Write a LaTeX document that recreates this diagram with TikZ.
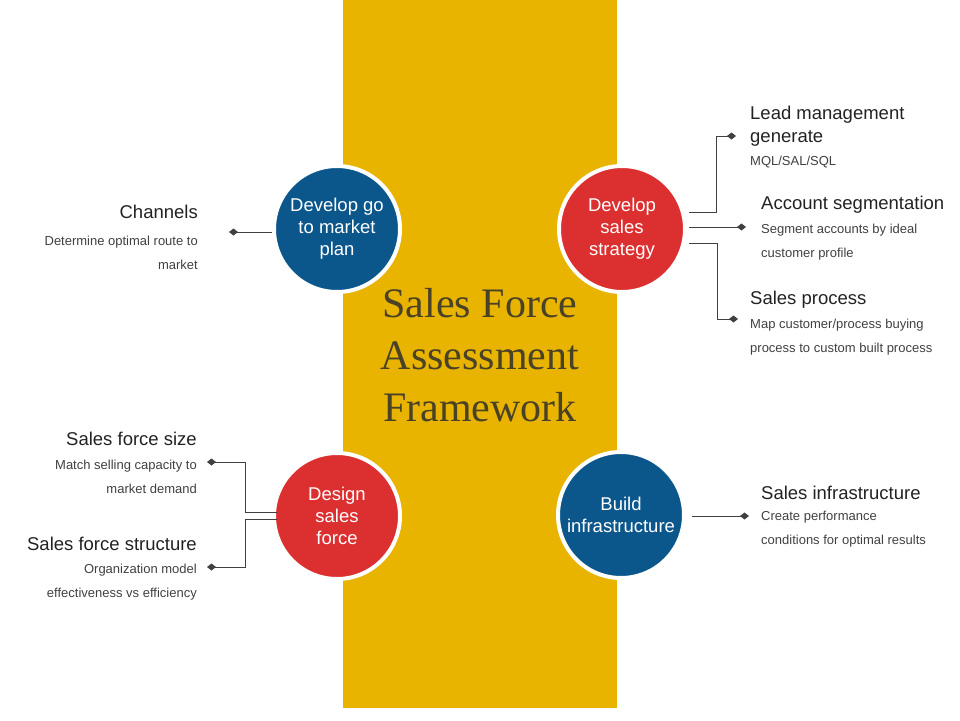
\documentclass[tikz,border=0pt]{standalone}
\usepackage{fontspec}
\setmainfont{Liberation Sans}
\newfontfamily\titlefont{Liberation Serif}
\usepackage{tikz}
\usetikzlibrary{
  arrows.meta,
  positioning
}
\definecolor{bandyellow}{RGB}{232,180,0}
\definecolor{stepblue}{RGB}{11,87,140}
\definecolor{stepred}{RGB}{220,47,48}
\definecolor{titlebrown}{RGB}{74,66,38}
\definecolor{headgray}{RGB}{34,34,34}
\definecolor{subgray}{RGB}{64,64,64}

\begin{document}
\begin{tikzpicture}[x=1pt,y=-1pt,
  stepcircle/.style={circle,draw=white,line width=4pt,minimum size=126pt,
    inner sep=0pt,align=center,text=white,font=\fontsize{18.5}{22}\selectfont},
  bluecircle/.style={stepcircle,fill=stepblue},
  redcircle/.style={stepcircle,fill=stepred},
  head/.style={inner sep=0pt,text=headgray,font=\fontsize{18.5}{23}\selectfont},
  sub/.style={inner sep=0pt,text=subgray,font=\fontsize{13}{24}\selectfont},
  lhead/.style={head,anchor=east,align=right},
  lsub/.style={sub,anchor=east,align=right},
  rhead/.style={head,anchor=west,align=left},
  rsub/.style={sub,anchor=west,align=left},
  link/.style={draw=subgray,line width=1pt,-{Diamond[length=9pt,width=7pt]}}
]
\useasboundingbox (0,0) rectangle (960,720);

% ---- centre band and title ----
\fill[bandyellow] (343,0) rectangle (617,708);
\node[titlebrown,align=center,font=\titlefont\fontsize{42}{52}\selectfont]
  (title) at (480,355) {Sales Force\\Assessment\\Framework};

% ---- the four steps ----
\node[bluecircle] (gtm) at (337,229) {Develop go\\to market\\plan};
\node[redcircle]  (st)  at (622,229) {Develop\\sales\\strategy};
\node[redcircle]  (dsf) at (337,516) {Design\\sales\\force};
\node[bluecircle] (bi)  at (621,515) {Build\\infrastructure};

% ---- Step 1: go to market ----
\node[lhead] (ch)  at (198,212) {Channels};
\node[lsub]  (chs) at (198,253) {Determine optimal route to\\market};
\coordinate (gtm-a) at (272,232);
\coordinate (ch-d)  at (229,232);
\draw[link] (gtm-a) -- (ch-d);

% ---- Step 2: sales strategy ----
\node[rhead] (lm)  at (750,126) {Lead management\\generate};
\node[rsub]  (lms) at (750,162) {MQL/SAL/SQL};
\node[rhead] (as)  at (761,205) {Account segmentation};
\node[rsub]  (ass) at (761,242) {Segment accounts by ideal\\customer profile};
\node[rhead] (sp)  at (750,300) {Sales process};
\node[rsub]  (sps) at (750,337) {Map customer/process buying\\process to custom built process};
\coordinate (st-a) at (689,212);
\coordinate (st-b) at (689,227);
\coordinate (st-c) at (689,243);
\coordinate (lm-d) at (736,136);
\coordinate (as-d) at (746,227);
\coordinate (sp-d) at (738,319);
\draw[link] (st-a) -- ++(27,0) |- (lm-d);
\draw[link] (st-b) -- (as-d);
\draw[link] (st-c) -- ++(28,0) |- (sp-d);

% ---- Step 3: sales force ----
\node[lhead] (sfs)   at (197,439) {Sales force size};
\node[lsub]  (sfss)  at (197,477) {Match selling capacity to\\market demand};
\node[lhead] (sfst)  at (197,544) {Sales force structure};
\node[lsub]  (sfsts) at (197,582) {Organization model\\effectiveness vs efficiency};
\coordinate (dsf-a)  at (277,512);
\coordinate (dsf-b)  at (277,519);
\coordinate (sfs-d)  at (207,462);
\coordinate (sfst-d) at (207,567);
\draw[link] (dsf-a) -- (245,512) |- (sfs-d);
\draw[link] (dsf-b) -- (245,519) |- (sfst-d);

% ---- Step 4: infrastructure ----
\node[rhead] (si)  at (761,493) {Sales infrastructure};
\node[rsub]  (sis) at (761,529) {Create performance\\conditions for optimal results};
\coordinate (bi-a) at (692,516);
\coordinate (si-d) at (749,516);
\draw[link] (bi-a) -- (si-d);
\end{tikzpicture}
\end{document}
